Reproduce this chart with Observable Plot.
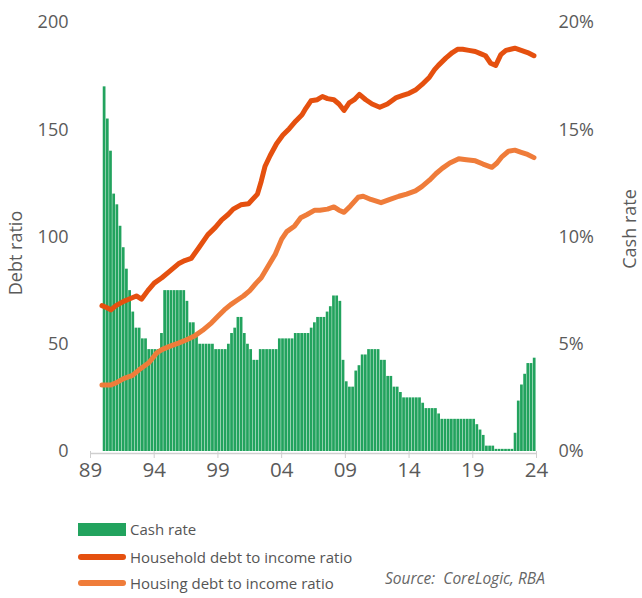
<!DOCTYPE html>
<html>
<head>
<meta charset="utf-8">
<script src="https://cdn.jsdelivr.net/npm/d3@7"></script>
<script src="https://cdn.jsdelivr.net/npm/@observablehq/plot@0.6"></script>
<style>
  html, body { margin: 0; padding: 0; background: #fff; }
  body { width: 642px; height: 598px; position: relative; overflow: hidden; font-family: "Open Sans", sans-serif; color: #5a5a5a; }
  #chart { position: absolute; left: 0; top: 0; }
  .sw { position: absolute; left: 78px; width: 48px; }
  .lt { position: absolute; left: 130px; font-size: 15px; line-height: 20px; color: #555; white-space: nowrap; }
  #src { position: absolute; left: 385px; top: 567px; font-size: 15.5px; font-style: italic; color: #666; white-space: nowrap; }
</style>
</head>
<body>
<div id="chart"></div>
<div class="sw" style="top:523px;height:13px;background:#22A35E;"></div>
<div class="lt" style="top:519px;">Cash rate</div>
<div class="sw" style="top:554px;height:6px;border-radius:3px;background:#E5500F;"></div>
<div class="lt" style="top:547px;">Household debt to income ratio</div>
<div class="sw" style="top:580px;height:6px;border-radius:3px;background:#EF7C3A;"></div>
<div class="lt" style="top:573px;">Housing debt to income ratio</div>
<div id="src">Source:&nbsp; CoreLogic, RBA</div>
<script>
// Cash rate (%), quarterly from 1990 Q1 to 2023 Q4
const cashStartYear = 1990;
const cashRate = [
  17.0, 15.5, 14.0, 12.0,   // 1990
  11.5, 10.5, 9.5, 8.5,     // 1991
  7.5, 6.5, 5.75, 5.75,     // 1992
  5.25, 5.25, 4.75, 4.75,   // 1993
  4.75, 4.75, 5.5, 7.5,     // 1994
  7.5, 7.5, 7.5, 7.5,       // 1995
  7.5, 7.5, 7.0, 6.0,       // 1996
  6.0, 5.5, 5.0, 5.0,       // 1997
  5.0, 5.0, 5.0, 4.75,      // 1998
  4.75, 4.75, 4.75, 5.0,    // 1999
  5.5, 5.75, 6.25, 6.25,    // 2000
  5.5, 5.0, 4.75, 4.25,     // 2001
  4.25, 4.75, 4.75, 4.75,   // 2002
  4.75, 4.75, 4.75, 5.25,   // 2003
  5.25, 5.25, 5.25, 5.25,   // 2004
  5.5, 5.5, 5.5, 5.5,       // 2005
  5.5, 5.75, 6.0, 6.25,     // 2006
  6.25, 6.25, 6.5, 6.75,    // 2007
  7.25, 7.25, 7.0, 4.25,    // 2008
  3.25, 3.0, 3.0, 3.75,     // 2009
  4.0, 4.5, 4.5, 4.75,      // 2010
  4.75, 4.75, 4.75, 4.25,   // 2011
  4.25, 3.5, 3.5, 3.0,      // 2012
  3.0, 2.75, 2.5, 2.5,      // 2013
  2.5, 2.5, 2.5, 2.5,       // 2014
  2.25, 2.0, 2.0, 2.0,      // 2015
  2.0, 1.75, 1.5, 1.5,      // 2016
  1.5, 1.5, 1.5, 1.5,       // 2017
  1.5, 1.5, 1.5, 1.5,       // 2018
  1.5, 1.25, 1.0, 0.75,     // 2019
  0.25, 0.25, 0.25, 0.1,    // 2020
  0.1, 0.1, 0.1, 0.1,       // 2021
  0.1, 0.85, 2.35, 3.1,     // 2022
  3.6, 4.1, 4.1, 4.35       // 2023
];

// Household debt to income ratio
const householdYears = [1989.9, 1990.3, 1990.6, 1991.0, 1991.6, 1992.0, 1992.6, 1993.0, 1993.5, 1994.0,
  1994.6, 1995.2, 1995.9, 1996.4, 1996.9, 1997.5, 1998.2, 1998.8, 1999.3, 1999.8,
  2000.2, 2000.8, 2001.4, 2002.1, 2002.4, 2002.7, 2003.1, 2003.6, 2004.1, 2004.6,
  2005.1, 2005.6, 2005.9, 2006.3, 2006.8, 2007.2, 2007.6, 2008.1, 2008.5, 2008.9,
  2009.3, 2009.7, 2010.1, 2010.6, 2011.1, 2011.7, 2012.3, 2013.0, 2013.5, 2014.0,
  2014.5, 2015.0, 2015.6, 2016.0, 2016.3, 2016.9, 2017.4, 2017.8, 2018.2, 2018.7,
  2019.2, 2019.6, 2020.0, 2020.4, 2020.8, 2021.2, 2021.6, 2022.3, 2022.8, 2023.3, 2023.8];
const householdRatio = [68, 67, 66, 68, 70, 71, 72.5, 71, 75, 78.5,
  81, 84, 87.5, 89, 90, 95, 101, 104.5, 108, 110.5,
  113, 115, 115.5, 120, 126, 133, 138, 143.5, 147.5, 150.5,
  154, 157, 160, 163.5, 164, 165.5, 164.5, 164, 162, 159,
  162.5, 164, 166.5, 164, 162, 160.5, 162, 165, 166, 167,
  168.5, 171, 174.5, 178, 180, 183.5, 186, 187.5, 187.5, 187,
  186.5, 185.5, 184.5, 181, 180, 185, 187, 188, 187, 186, 184.5];

// Housing debt to income ratio
const housingYears = [1989.9, 1990.6, 1991.0, 1991.6, 1992.3, 1992.9, 1993.6, 1994.2, 1994.6, 1995.2,
  1995.9, 1996.5, 1997.2, 1997.8, 1998.5, 1999.0, 1999.5, 2000.0, 2000.5, 2001.0,
  2001.5, 2002.0, 2002.4, 2002.9, 2003.5, 2004.0, 2004.4, 2005.0, 2005.5, 2006.0,
  2006.6, 2007.0, 2007.6, 2008.1, 2008.5, 2008.9, 2009.4, 2010.0, 2010.4, 2011.0,
  2011.8, 2012.5, 2013.2, 2013.8, 2014.5, 2015.0, 2015.6, 2016.1, 2016.6, 2017.2,
  2017.9, 2018.5, 2019.2, 2019.8, 2020.5, 2020.9, 2021.3, 2021.8, 2022.3, 2022.8, 2023.3, 2023.8];
const housingRatio = [31, 31, 32, 34, 35.5, 38.5, 41.5, 46, 47.5, 49,
  50.5, 52, 54, 56.5, 60, 63, 66, 68.5, 70.5, 72.5,
  75, 78.5, 81, 86, 92, 99, 102.5, 105, 109, 110.5,
  112.5, 112.5, 113, 114, 112.5, 111.5, 114.5, 118.5, 119, 117.5,
  116, 117.5, 119, 120, 121.5, 123.5, 126.5, 129.5, 132, 134.5,
  136.5, 136, 135.5, 134, 132.5, 134.5, 137.5, 140, 140.5, 139.5, 138.5, 137];

const xTicks = [1989, 1994, 1999, 2004, 2009, 2014, 2019, 2024];
const debtTicks = [0, 50, 100, 150, 200];

const cash = cashRate.map((r, i) => ({x1: cashStartYear + i / 4, x2: cashStartYear + (i + 1) / 4, rate: r}));
const household = householdYears.map((y, i) => ({year: y, value: householdRatio[i]}));
const housing = housingYears.map((y, i) => ({year: y, value: housingRatio[i]}));

const textColor = "#5a5a5a";
const chart = Plot.plot({
  width: 642,
  height: 490,
  marginLeft: 90,
  marginRight: 106,
  marginTop: 22,
  marginBottom: 39,
  style: {fontFamily: "'Open Sans', sans-serif", color: textColor, background: "#fff"},
  x: {domain: [1989, 2024]},
  y: {domain: [0, 200]},
  marks: [
    Plot.rectY(cash, {x1: "x1", x2: "x2", y1: 0, y2: d => d.rate * 10, fill: "#22A35E", insetRight: 0.45}),
    Plot.ruleY([0], {dy: 2, stroke: "#cfcfcf", strokeWidth: 1.5}),
    Plot.line(housing, {x: "year", y: "value", stroke: "#EF7C3A", strokeWidth: 5, strokeLinecap: "round", strokeLinejoin: "round"}),
    Plot.line(household, {x: "year", y: "value", stroke: "#E5500F", strokeWidth: 5, strokeLinecap: "round", strokeLinejoin: "round"}),
    Plot.axisX({ticks: xTicks, tickFormat: d => String(d % 100).padStart(2, "0"), tickSize: 7, tickPadding: 4, stroke: "#cfcfcf", fontSize: 20.5, label: null}),
    Plot.axisY({anchor: "left", ticks: debtTicks, tickSize: 0, tickPadding: 22, fontSize: 18, label: null}),
    Plot.axisY({anchor: "right", ticks: debtTicks, tickFormat: d => d / 10 + "%", tickSize: 0, tickPadding: 22, fontSize: 18, label: null}),
    Plot.text(["Debt ratio"], {frameAnchor: "left", textAnchor: "middle", text: d => d, rotate: -90, dx: -74, dy: 16, fontSize: 18, fill: textColor}),
    Plot.text(["Cash rate"], {frameAnchor: "right", textAnchor: "middle", text: d => d, rotate: -90, dx: 94, dy: -8, fontSize: 18, fill: textColor})
  ]
});
document.getElementById("chart").appendChild(chart);
</script>
</body>
</html>
